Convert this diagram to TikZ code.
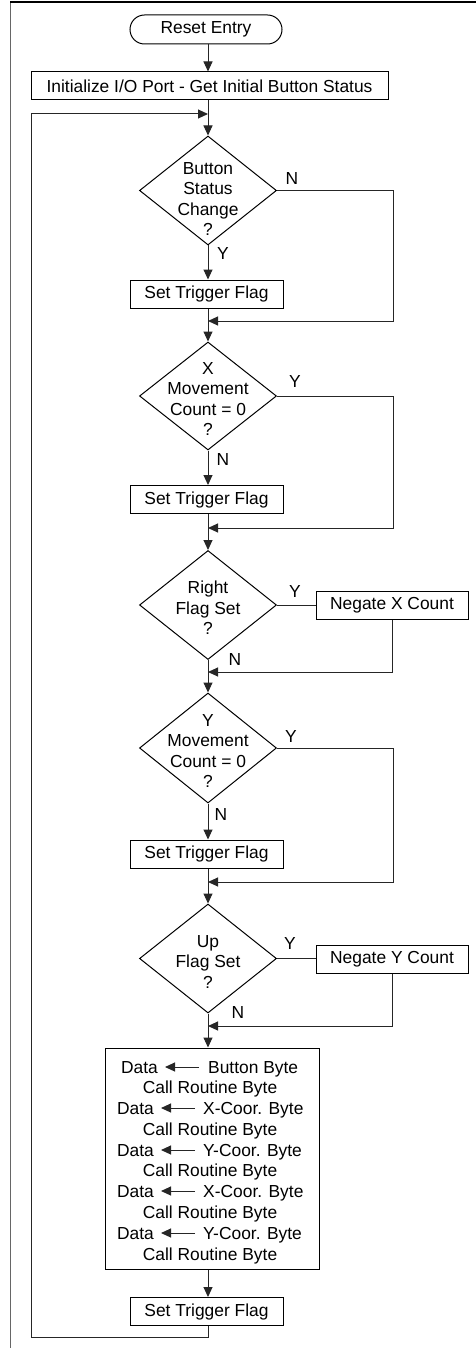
\documentclass[tikz,border=0pt]{standalone}
\usepackage{fontspec}
\setmainfont{Liberation Sans}
\usetikzlibrary{shapes.geometric,arrows.meta}
\begin{document}
\begin{tikzpicture}[x=1pt,y=-1pt,
  every node/.style={font=\fontsize{17.4pt}{20.6pt}\selectfont},
  conn/.style={draw=black!85, line width=1pt},
  arr/.style={conn,-{Triangle[length=10pt,width=9pt]}},
  box/.style={draw, line width=1pt, rectangle, inner sep=0pt, minimum height=28pt, minimum width=153pt},
  dia/.style={draw, line width=1pt, diamond, inner sep=0pt, minimum width=137pt, minimum height=109pt},
  dtext/.style={align=center, inner sep=0pt},
  lab/.style={inner sep=0pt},
  inl/.style={inner sep=0pt, text height=12.5pt, text depth=0pt},
  frame/.style={line width=1pt}
]
\useasboundingbox (0,0) rectangle (476,1348);
% frame
\coordinate (fb) at (10,1348);
\coordinate (fc) at (10,2);
\coordinate (fr) at (476,2);
\draw[frame, draw=black!60] (fb) -- (fc);
\draw[frame, line width=1.3pt] (fc) -- (fr);

\coordinate (ax) at (208,0);

\node[box, rounded corners=14.5pt, minimum width=152pt, minimum height=29pt] (reset) at (206,29.5) {Reset Entry};
\node[box, minimum width=357pt] (init) at (209.5,86) {Initialize I/O Port - Get Initial Button Status};
\draw[arr] (reset.south -| ax) -- (init.north -| ax);

\coordinate (jt) at (208,114);
% decision 1
\node[dia] (d1) at (208,190.5) {};
\node[dtext] at (208,199) {Button\\Status\\Change\\?};
\draw[arr] (init.south -| ax) -- (d1.north);
\node[box] (s1) at (206.5,294) {Set Trigger Flag};
\draw[arr] (d1.south) -- (s1.north -| ax);
\node[lab] at (223,254) {Y};
\node[lab] at (292,179) {N};
\coordinate (c1) at (393,321);
\coordinate (j1) at (208,321);
\draw[arr] (d1.east) -| (c1) -- (j1);

% decision 2
\node[dia, minimum height=108pt] (d2) at (208,396) {};
\draw[arr] (s1.south -| ax) -- (d2.north);
\node[dtext] at (208,399) {X\\Movement\\Count = 0\\?};
\node[lab] at (295,382) {Y};
\node[lab] at (223,460) {N};
\node[box] (s2) at (206.5,499.5) {Set Trigger Flag};
\draw[arr] (d2.south) -- (s2.north -| ax);
\coordinate (c2) at (393,528);
\coordinate (j2) at (208,528);
\draw[arr] (d2.east) -| (c2) -- (j2);

% decision 3
\node[dia] (d3) at (208,605) {};
\draw[arr] (s2.south -| ax) -- (d3.north);
\node[dtext] at (208,608) {Right\\Flag Set\\?};
\node[box, minimum width=152pt] (nx) at (392,605.5) {Negate X Count};
\draw[conn] (d3.east) -- (d3.east -| nx.west);
\node[lab] at (295,592) {Y};
\node[lab] at (235,660) {N};
\coordinate (j3) at (208,672);
\draw[arr] (nx.south) |- (j3);

% decision 4
\node[dia, minimum height=110pt] (d4) at (208,748) {};
\draw[arr] (d3.south) -- (d4.north);
\node[dtext] at (208,751) {Y\\Movement\\Count = 0\\?};
\node[lab] at (291,737) {Y};
\node[lab] at (221,815) {N};
\node[box] (s3) at (206.5,854) {Set Trigger Flag};
\draw[arr] (d4.south) -- (s3.north -| ax);
\coordinate (c4) at (393,882);
\coordinate (j4) at (208,882);
\draw[arr] (d4.east) -| (c4) -- (j4);

% decision 5
\node[dia] (d5) at (208,958.5) {};
\draw[arr] (s3.south -| ax) -- (d5.north);
\node[dtext] at (208,962) {Up\\Flag Set\\?};
\node[box, minimum width=152pt] (ny) at (392,959.5) {Negate Y Count};
\draw[conn] (d5.east) -- (d5.east -| ny.west);
\node[lab] at (290,944) {Y};
\node[lab] at (238,1013) {N};
\coordinate (j5) at (208,1026);
\draw[arr] (ny.south) |- (j5);

% data box
\node[box, minimum width=214pt, minimum height=221pt] (big) at (212,1158.5) {};
\draw[arr] (d5.south) -- (big.north -| ax);

\node[inl, anchor=east] (da1) at (158,1067) {Data};
\node[inl, anchor=west] (db1) at (208,1067) {Button Byte};
\draw[arr, shorten <=9pt, shorten >=7pt] (db1.west) -- (da1.east);
\node[inl] (cr1) at (210,1087.5) {Call Routine Byte};

\node[inl, anchor=east] (da2) at (154,1108) {Data};
\node[inl, anchor=west] (db2) at (203,1108) {X-Coor. Byte};
\draw[arr, shorten <=8pt, shorten >=7pt] (db2.west) -- (da2.east);
\node[inl] (cr2) at (210,1129) {Call Routine Byte};

\node[inl, anchor=east] (da3) at (154,1150) {Data};
\node[inl, anchor=west] (db3) at (203,1150) {Y-Coor. Byte};
\draw[arr, shorten <=8pt, shorten >=7pt] (db3.west) -- (da3.east);
\node[inl] (cr3) at (210,1170) {Call Routine Byte};

\node[inl, anchor=east] (da4) at (154,1191) {Data};
\node[inl, anchor=west] (db4) at (203,1191) {X-Coor. Byte};
\draw[arr, shorten <=8pt, shorten >=7pt] (db4.west) -- (da4.east);
\node[inl] (cr4) at (210,1212) {Call Routine Byte};

\node[inl, anchor=east] (da5) at (154,1233) {Data};
\node[inl, anchor=west] (db5) at (203,1233) {Y-Coor. Byte};
\draw[arr, shorten <=8pt, shorten >=7pt] (db5.west) -- (da5.east);
\node[inl] (cr5) at (210,1254) {Call Routine Byte};

\node[box] (s4) at (206.5,1311.5) {Set Trigger Flag};
\draw[arr] (big.south -| ax) -- (s4.north -| ax);
\coordinate (lb) at (31,1337);
\draw[arr] (s4.south -| ax) |- (lb) |- (jt);
\end{tikzpicture}
\end{document}
